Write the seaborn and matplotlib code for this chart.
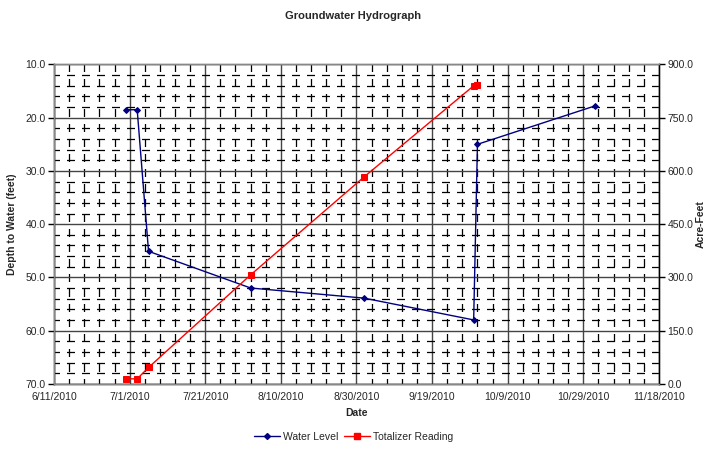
import pandas as pd
import seaborn as sns
import matplotlib.pyplot as plt
import matplotlib.dates as mdates
import matplotlib.ticker as ticker
from matplotlib.lines import Line2D

# data
level_dates = ['2010-06-30', '2010-07-03', '2010-07-06', '2010-08-02',
               '2010-09-01', '2010-09-30', '2010-10-01', '2010-11-01']
depth_ft = [18.5, 18.5, 45.1, 52.0, 53.9, 58.0, 25.0, 17.8]

total_dates = ['2010-06-30', '2010-07-03', '2010-07-06', '2010-08-02',
               '2010-09-01', '2010-09-30', '2010-10-01']
acre_feet = [14, 14, 46, 307, 583, 840, 843]

x_ticks = ['2010-06-11', '2010-07-01', '2010-07-21', '2010-08-10', '2010-08-30',
           '2010-09-19', '2010-10-09', '2010-10-29', '2010-11-18']

df_lvl = pd.DataFrame({'date': pd.to_datetime(level_dates), 'depth': depth_ft})
df_tot = pd.DataFrame({'date': pd.to_datetime(total_dates), 'af': acre_feet})

sns.set_style('white')
plt.rcParams['font.family'] = ['Liberation Sans', 'DejaVu Sans']
plt.rcParams['font.size'] = 7.5

fig, ax = plt.subplots(figsize=(7.07, 4.51), dpi=100)
fig.subplots_adjust(left=0.0764, right=0.932, top=0.857, bottom=0.149)
ax2 = ax.twinx()

navy = '#000080'
red = '#ff0000'

# axes / ticks
xt = pd.to_datetime(x_ticks)
ax.set_xlim(xt[0], xt[-1])
ax.set_xticks(xt)
ax.set_xticks(pd.date_range(xt[0], xt[-1], freq='4D'), minor=True)
ax.xaxis.set_major_formatter(ticker.FuncFormatter(
    lambda v, p: '{d.month}/{d.day}/{d.year}'.format(d=mdates.num2date(v))))

ax.set_ylim(70, 10)
ax.yaxis.set_major_locator(ticker.MultipleLocator(10))
ax.yaxis.set_minor_locator(ticker.MultipleLocator(2))
ax.yaxis.set_major_formatter(ticker.FormatStrFormatter('%.1f'))

ax2.set_ylim(0, 900)
ax2.yaxis.set_major_locator(ticker.MultipleLocator(150))
ax2.yaxis.set_minor_locator(ticker.MultipleLocator(30))
ax2.yaxis.set_major_formatter(ticker.FormatStrFormatter('%.1f'))

ax.grid(True, which='major', color='#444444', linewidth=1.0)
ax.grid(True, which='minor', color='black', linewidth=0.9, linestyle=(2, (6.4, 5.6)))
ax.set_axisbelow(True)

sns.lineplot(data=df_lvl, x='date', y='depth', ax=ax, color=navy, marker='D',
             markersize=3, markeredgecolor=navy, linewidth=1.0, legend=False)
sns.lineplot(data=df_tot, x='date', y='af', ax=ax2, color=red, marker='s',
             markersize=4, markeredgecolor=red, linewidth=1.0, legend=False)

for a in (ax, ax2):
    for s in a.spines.values():
        s.set_color('#888888')
        s.set_linewidth(1.0)
ax.spines['left'].set_color('black')
ax.spines['bottom'].set_color('black')
ax2.spines['right'].set_color('black')

ax.tick_params(axis='both', which='major', direction='out', length=4, width=1,
               color='black', labelsize=7.5, pad=2)
ax.tick_params(axis='both', which='minor', length=0)
ax2.tick_params(axis='y', which='major', direction='out', length=4, width=1,
                color='black', labelsize=7.5, pad=2)
ax2.tick_params(axis='y', which='minor', length=0)

ax.set_xlabel('Date', fontweight='bold', fontsize=7.5, labelpad=4)
ax.set_ylabel('Depth to Water (feet)', fontweight='bold', fontsize=7.5, labelpad=6)
ax2.set_ylabel('Acre-Feet', fontweight='bold', fontsize=7.5, labelpad=2)
fig.suptitle('Groundwater Hydrograph', fontweight='bold', fontsize=8, y=0.975)

handles = [Line2D([], [], color=navy, marker='D', markersize=3, linewidth=1.0),
           Line2D([], [], color=red, marker='s', markersize=4, linewidth=1.0)]
fig.legend(handles, ['Water Level', 'Totalizer Reading'], loc='lower center',
           ncol=2, frameon=False, fontsize=7.5, bbox_to_anchor=(0.5, 0.0),
           handlelength=2.5, columnspacing=0.5, handletextpad=0.3)

plt.savefig('out.png', dpi=100)
